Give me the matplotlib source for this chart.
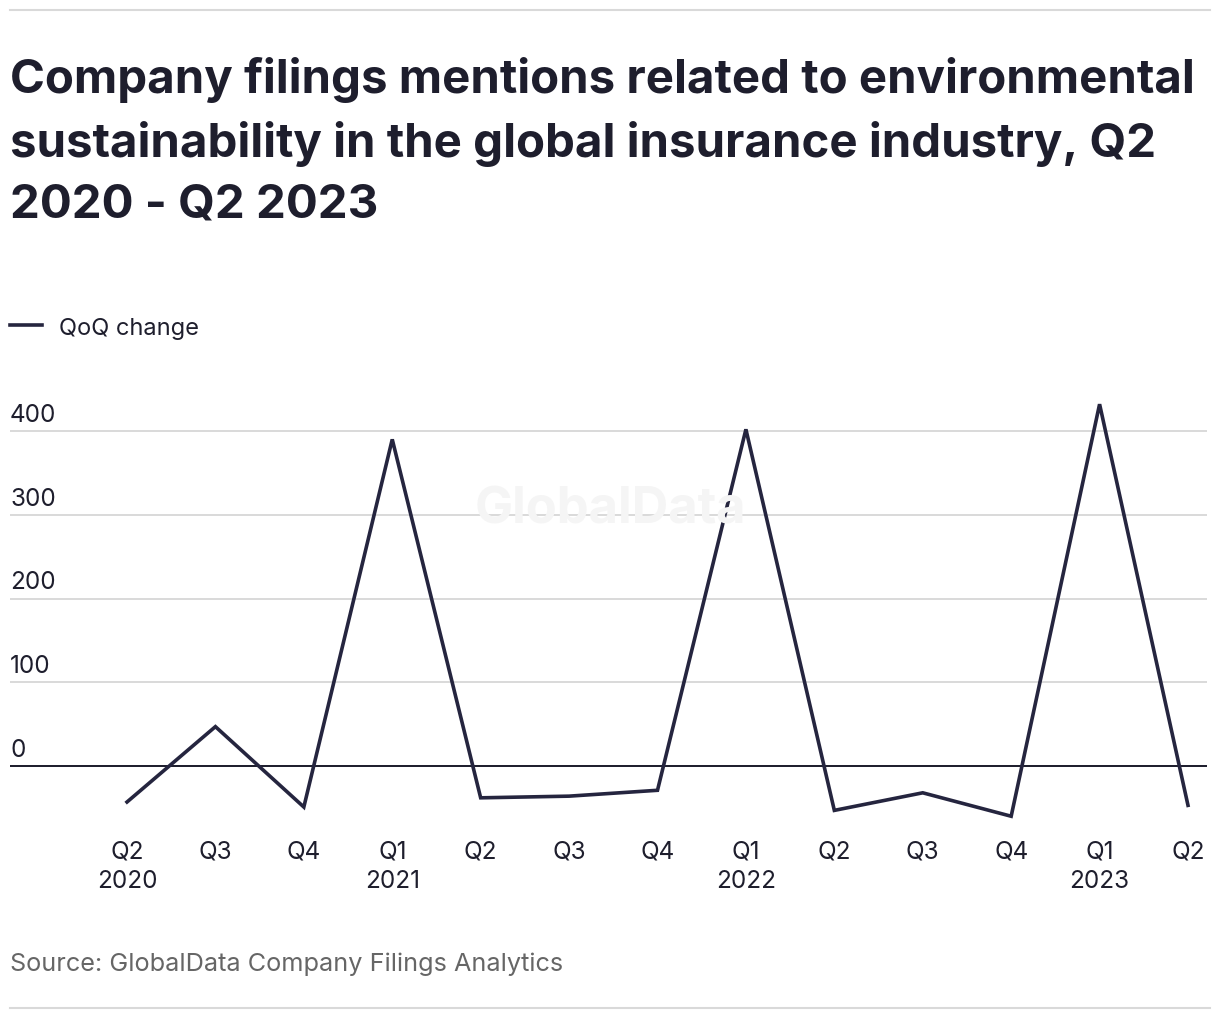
import matplotlib
matplotlib.use("Agg")
import matplotlib.pyplot as plt
import matplotlib.transforms as mtransforms
from matplotlib.lines import Line2D

# ---- data ----
quarter_labels = ["Q2\n2020", "Q3", "Q4", "Q1\n2021", "Q2", "Q3", "Q4",
                  "Q1\n2022", "Q2", "Q3", "Q4", "Q1\n2023", "Q2"]
qoq_change = [-43, 47, -49, 390, -38, -36, -29, 402, -53, -32, -60, 432, -47]
y_ticks = [0, 100, 200, 300, 400]

title = ("Company filings mentions related to environmental\n"
         "sustainability in the global insurance industry, Q2\n"
         "2020 - Q2 2023")
series_name = "QoQ change"
source = "Source: GlobalData Company Filings Analytics"

LINE = "#25253f"
GRID = "#d9d9d9"
TEXT = "#1e1e2d"
FONT = ["Inter", "DejaVu Sans"]
plt.rcParams["font.family"] = FONT

W, H = 1220, 1020
fig = plt.figure(figsize=(W / 100, H / 100), dpi=100)

def fx(px):
    return px / W

def fy(py):
    return 1 - py / H

# axes placement (pixel)
ax_left, ax_right, ax_top, ax_bot = 10, 1207, 380, 835
ax = fig.add_axes([fx(ax_left), fy(ax_bot), fx(ax_right - ax_left), (ax_bot - ax_top) / H])

n = len(qoq_change)
xs = list(range(n))
px_per_q = (1188 - 127) / (n - 1)
ax.set_xlim(-(127 - ax_left) / px_per_q, (n - 1) + (ax_right - 1188) / px_per_q)
zero_px = 767
px_per_unit = (767 - 432) / 400
ax.set_ylim(-(ax_bot - zero_px) / px_per_unit, (zero_px - ax_top) / px_per_unit)

for t in y_ticks:
    if t == 0:
        ax.axhline(0, color="#1a1a2a", lw=1.4, zorder=2)
    else:
        ax.axhline(t, color=GRID, lw=1.4, zorder=1)

ax.plot(xs, qoq_change, color=LINE, lw=2.6, zorder=3, solid_joinstyle="miter")

trans = mtransforms.blended_transform_factory(ax.transAxes, ax.transData)
for t in y_ticks:
    ax.text(0, t + 5 / px_per_unit, f"{t}", transform=trans, ha="left", va="bottom",
            fontsize=17.5, color=TEXT)

ax.set_xticks(xs)
ax.set_xticklabels(quarter_labels, fontsize=17.5, color=TEXT, linespacing=1.38)
ax.tick_params(axis="x", length=0, pad=4)
ax.set_yticks([])
for s in ax.spines.values():
    s.set_visible(False)
ax.set_facecolor("none")

# watermark
fig.text(fx(610), fy(510), "GlobalData", fontsize=36.5, fontweight="bold", color="#f5f5f5",
         ha="center", va="center", zorder=0)

# title
fig.text(fx(10), fy(57), title, fontsize=34.1, fontweight="bold", color=TEXT,
         ha="left", va="top", linespacing=1.5)

# legend
fig.add_artist(Line2D([fx(10), fx(42)], [fy(326), fy(326)], color=LINE, lw=2.6))
fig.text(fx(59), fy(329), series_name, fontsize=17, color=TEXT, ha="left", va="center")

# source
fig.text(fx(10), fy(964), source, fontsize=18.2, color="#666666", ha="left", va="center")

# frame lines
fig.add_artist(Line2D([fx(10), fx(1210)], [fy(11), fy(11)], color=GRID, lw=1.5))
fig.add_artist(Line2D([fx(10), fx(1210)], [fy(1009), fy(1009)], color=GRID, lw=1.5))

fig.savefig("out.png", dpi=100)
